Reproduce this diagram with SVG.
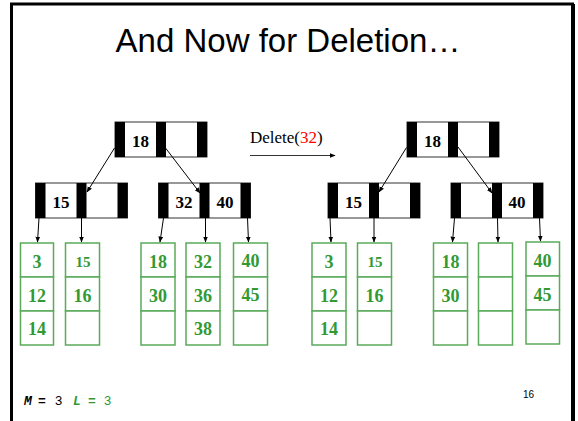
<svg xmlns="http://www.w3.org/2000/svg" width="578" height="421" viewBox="0 0 578 421">
<defs>
<marker id="ah" viewBox="0 0 10 10" refX="9" refY="5" markerWidth="6" markerHeight="6" orient="auto" markerUnits="userSpaceOnUse">
<path d="M0,1 L10,5 L0,9 z" fill="#000"/>
</marker>
<style>
.bar{fill:#000}
.cell{fill:#fff;stroke:#333;stroke-width:1}
.key{font-family:"Liberation Serif","Times New Roman",serif;font-weight:bold;font-size:17px;fill:#000;text-anchor:middle}
.leaf{fill:#fff;stroke:#5aaa5a;stroke-width:1.5}
.lk{font-family:"Liberation Serif","Times New Roman",serif;font-weight:bold;font-size:18px;fill:#339933;text-anchor:middle}
.sm{font-size:15px}
.conn line{stroke:#000;stroke-width:1;marker-end:url(#ah)}
</style>
</defs>
<rect x="0" y="0" width="578" height="421" fill="#fff"/>
<rect x="11.5" y="4" width="561" height="430" fill="#fff" stroke="#000" stroke-width="3"/>
<line x1="573" y1="4" x2="573" y2="421" stroke="#000" stroke-width="4"/>
<text x="288" y="52" font-family="Liberation Sans, Arial, sans-serif" font-size="33" text-anchor="middle" fill="#000">And Now for Deletion…</text>

<!-- left tree internal nodes -->
<g id="L-root">
<rect class="cell" x="115" y="122" width="92" height="35"/>
<rect class="bar" x="115" y="122" width="10" height="35"/><rect class="bar" x="156" y="122" width="10" height="35"/><rect class="bar" x="197" y="122" width="10" height="35"/>
<text class="key" x="140.5" y="147">18</text>
</g>
<g id="L-n15">
<rect class="cell" x="35.5" y="183" width="92" height="35"/>
<rect class="bar" x="35.5" y="183" width="10" height="35"/><rect class="bar" x="76.5" y="183" width="10" height="35"/><rect class="bar" x="117.5" y="183" width="10" height="35"/>
<text class="key" x="61" y="208">15</text>
</g>
<g id="L-n3240">
<rect class="cell" x="158.5" y="183" width="92" height="35"/>
<rect class="bar" x="158.5" y="183" width="10" height="35"/><rect class="bar" x="199.5" y="183" width="10" height="35"/><rect class="bar" x="240.5" y="183" width="10" height="35"/>
<text class="key" x="184" y="208">32</text><text class="key" x="225" y="208">40</text>
</g>

<!-- right tree internal nodes -->
<g id="R-root">
<rect class="cell" x="407" y="122" width="92" height="35"/>
<rect class="bar" x="407" y="122" width="10" height="35"/><rect class="bar" x="448" y="122" width="10" height="35"/><rect class="bar" x="489" y="122" width="10" height="35"/>
<text class="key" x="432.5" y="147">18</text>
</g>
<g id="R-n15">
<rect class="cell" x="328" y="183" width="92" height="35"/>
<rect class="bar" x="328" y="183" width="10" height="35"/><rect class="bar" x="369" y="183" width="10" height="35"/><rect class="bar" x="410" y="183" width="10" height="35"/>
<text class="key" x="353.5" y="208">15</text>
</g>
<g id="R-n40">
<rect class="cell" x="451" y="183" width="92" height="35"/>
<rect class="bar" x="451" y="183" width="10" height="35"/><rect class="bar" x="492" y="183" width="10" height="35"/><rect class="bar" x="533" y="183" width="10" height="35"/>
<text class="key" x="517" y="208">40</text>
</g>

<!-- left leaves -->
<g id="L-leaf1">
<rect class="leaf" x="20.5" y="243" width="33" height="34"/><rect class="leaf" x="20.5" y="277" width="33" height="34"/><rect class="leaf" x="20.5" y="311" width="33" height="34"/>
<text class="lk" x="37" y="268">3</text><text class="lk" x="37" y="301.5">12</text><text class="lk" x="37" y="335">14</text>
</g>
<g id="L-leaf2">
<rect class="leaf" x="65.5" y="243" width="34" height="34"/><rect class="leaf" x="65.5" y="277" width="34" height="34"/><rect class="leaf" x="65.5" y="311" width="34" height="34"/>
<text class="lk sm" x="83" y="267">15</text><text class="lk" x="82.5" y="301.5">16</text>
</g>
<g id="L-leaf3">
<rect class="leaf" x="141" y="243" width="34" height="34"/><rect class="leaf" x="141" y="277" width="34" height="34"/><rect class="leaf" x="141" y="311" width="34" height="34"/>
<text class="lk" x="158" y="268">18</text><text class="lk" x="158" y="301.5">30</text>
</g>
<g id="L-leaf4">
<rect class="leaf" x="186" y="243" width="34" height="34"/><rect class="leaf" x="186" y="277" width="34" height="34"/><rect class="leaf" x="186" y="311" width="34" height="34"/>
<text class="lk" x="203" y="268">32</text><text class="lk" x="203" y="301.5">36</text><text class="lk" x="203" y="335">38</text>
</g>
<g id="L-leaf5">
<rect class="leaf" x="233.5" y="243" width="34" height="34"/><rect class="leaf" x="233.5" y="277" width="34" height="34"/><rect class="leaf" x="233.5" y="311" width="34" height="34"/>
<text class="lk" x="250.5" y="267">40</text><text class="lk" x="250.5" y="301">45</text>
</g>

<!-- right leaves -->
<g id="R-leaf1">
<rect class="leaf" x="312" y="243" width="34" height="34"/><rect class="leaf" x="312" y="277" width="34" height="34"/><rect class="leaf" x="312" y="311" width="34" height="34"/>
<text class="lk" x="329" y="268">3</text><text class="lk" x="329" y="301.5">12</text><text class="lk" x="329" y="335">14</text>
</g>
<g id="R-leaf2">
<rect class="leaf" x="357.5" y="243" width="34" height="34"/><rect class="leaf" x="357.5" y="277" width="34" height="34"/><rect class="leaf" x="357.5" y="311" width="34" height="34"/>
<text class="lk sm" x="375" y="267">15</text><text class="lk" x="374.5" y="301.5">16</text>
</g>
<g id="R-leaf3">
<rect class="leaf" x="433.5" y="243" width="34" height="34"/><rect class="leaf" x="433.5" y="277" width="34" height="34"/><rect class="leaf" x="433.5" y="311" width="34" height="34"/>
<text class="lk" x="450.5" y="268">18</text><text class="lk" x="450.5" y="301.5">30</text>
</g>
<g id="R-leaf4">
<rect class="leaf" x="478.5" y="243" width="34" height="34"/><rect class="leaf" x="478.5" y="277" width="34" height="34"/><rect class="leaf" x="478.5" y="311" width="34" height="34"/>
</g>
<g id="R-leaf5">
<rect class="leaf" x="526" y="242" width="33.5" height="34"/><rect class="leaf" x="526" y="276" width="33.5" height="34"/><rect class="leaf" x="526" y="310" width="33.5" height="34"/>
<text class="lk" x="542.5" y="267">40</text><text class="lk" x="542.5" y="300.5">45</text>
</g>

<!-- connectors -->
<g id="connectors" class="conn">
<line x1="114.5" y1="148" x2="87" y2="192"/>
<line x1="165.5" y1="148" x2="200" y2="193"/>
<line x1="406.5" y1="147.5" x2="379" y2="192"/>
<line x1="458" y1="147" x2="492" y2="193"/>
<line x1="39" y1="218" x2="37.5" y2="242"/>
<line x1="81.5" y1="218" x2="81.5" y2="242"/>
<line x1="163.5" y1="218" x2="160" y2="242"/>
<line x1="205.5" y1="218" x2="205.5" y2="242"/>
<line x1="247.5" y1="218" x2="248.5" y2="242"/>
<line x1="330" y1="218" x2="331" y2="242"/>
<line x1="374" y1="218" x2="374" y2="242"/>
<line x1="454.5" y1="218" x2="452.5" y2="242"/>
<line x1="497.5" y1="218" x2="498" y2="242"/>
<line x1="539.5" y1="218" x2="540.5" y2="241"/>
<line x1="250" y1="155.5" x2="335" y2="155.5" style="stroke:#333"/>
</g>
<text x="250" y="143" font-family="Liberation Serif, Times New Roman, serif" font-size="17" fill="#000">Delete(<tspan fill="#ff0000">32</tspan>)</text>

<!-- footer -->
<g font-size="13" font-weight="bold">
<text x="24" y="405" font-family="Liberation Mono, Courier New, monospace" font-style="italic" fill="#000">M</text>
<text x="38" y="405" font-family="Liberation Mono, Courier New, monospace" fill="#000">=</text>
<text x="55" y="405" font-family="Liberation Sans, Arial, sans-serif" font-weight="normal" fill="#000">3</text>
<text x="73" y="405" font-family="Liberation Mono, Courier New, monospace" font-style="italic" fill="#339933">L</text>
<text x="88" y="405" font-family="Liberation Mono, Courier New, monospace" fill="#339933">=</text>
<text x="104" y="405" font-family="Liberation Sans, Arial, sans-serif" font-weight="normal" fill="#339933">3</text>
</g>
<text x="523" y="398" font-family="Liberation Sans, Arial, sans-serif" font-size="10" fill="#000">16</text>
</svg>
